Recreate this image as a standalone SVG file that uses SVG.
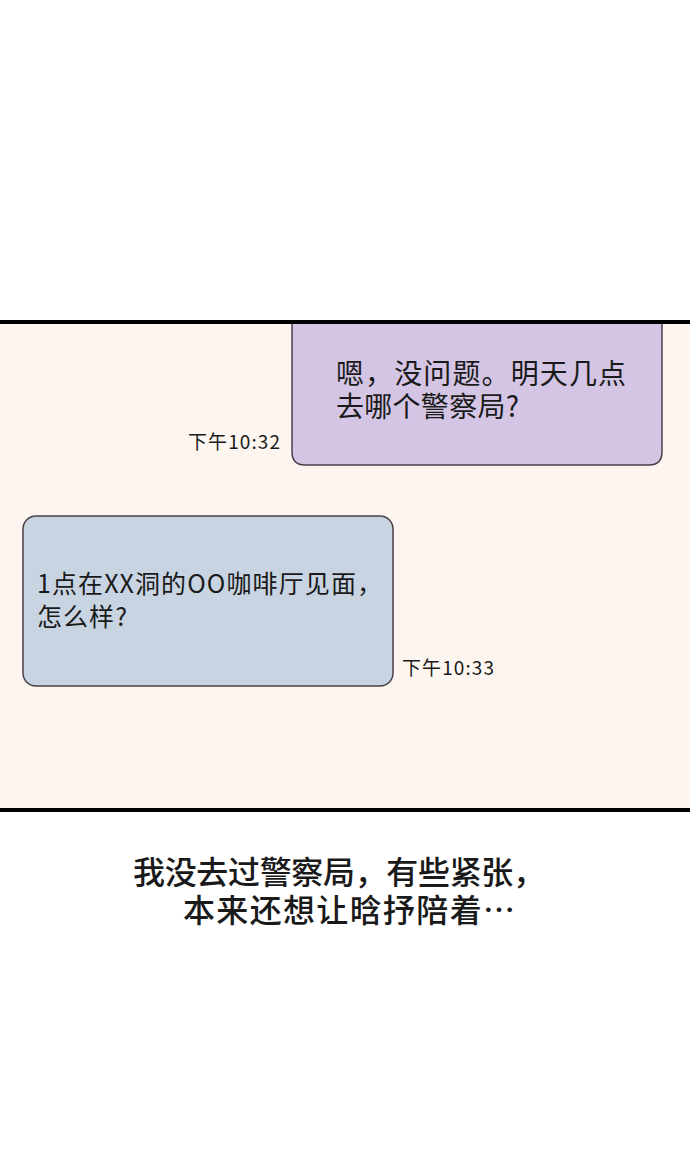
<svg xmlns="http://www.w3.org/2000/svg" width="690" height="1173" viewBox="0 0 690 1173">
<style>
.t{font-family:"Noto Sans CJK SC","Noto Sans",sans-serif;fill:#1a1a1a}
.b{stroke:#4a4048;stroke-width:1.5}
</style>
<rect width="690" height="1173" fill="#fff"/>
<rect x="0" y="322" width="690" height="488" fill="#fdf6f0"/>
<line x1="0" y1="322" x2="690" y2="322" stroke="#000" stroke-width="4"/>
<line x1="0" y1="810" x2="690" y2="810" stroke="#000" stroke-width="4"/>
<g id="bubble1">
<path class="b" d="M292 324 V452 Q292 465 305 465 H649 Q662 465 662 452 V324" fill="#d3c5e3"/>
<text class="t" x="336" y="384" font-size="28" textLength="290">嗯，没问题。明天几点</text>
<text class="t" x="336" y="417" font-size="28" textLength="183">去哪个警察局?</text>
<text class="t" x="188" y="449" font-size="19" textLength="92">下午10:32</text>
</g>
<g id="bubble2">
<rect class="b" x="23" y="516" width="370" height="170" rx="13" fill="#c8d4e2"/>
<text class="t" x="37" y="593" font-size="25" textLength="345">1点在XX洞的OO咖啡厅见面，</text>
<text class="t" x="37" y="626" font-size="25" textLength="90">怎么样?</text>
<text class="t" x="402" y="675" font-size="19" textLength="92">下午10:33</text>
</g>
<g id="caption">
<text class="t" x="133" y="884" font-size="32" font-weight="500" textLength="412">我没去过警察局，有些紧张，</text>
<text class="t" x="183" y="922" font-size="32" font-weight="500" textLength="332">本来还想让晗抒陪着…</text>
</g>
</svg>
